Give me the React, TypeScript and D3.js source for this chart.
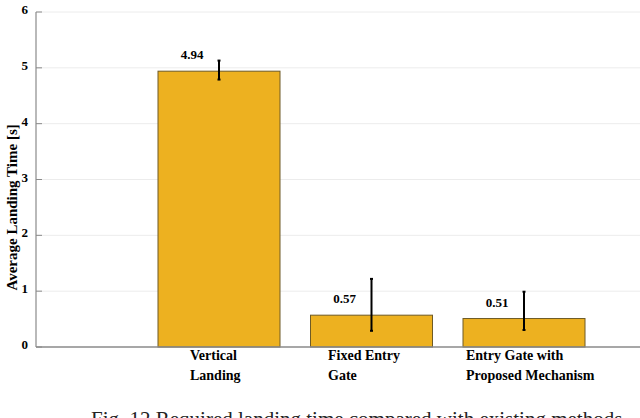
import React from 'react'
import * as d3 from 'd3'

const categories = ['Vertical Landing', 'Fixed Entry Gate', 'Entry Gate with Proposed Mechanism']
const labelLines = [['Vertical', 'Landing'], ['Fixed Entry', 'Gate'], ['Entry Gate with', 'Proposed Mechanism']]
const means = [4.94, 0.57, 0.51]
const errLow = [4.79, 0.29, 0.305]
const errHigh = [5.13, 1.22, 0.99]
const yTicks = [0, 1, 2, 3, 4, 5, 6]
const yLabel = 'Average Landing Time [s]'
const caption = 'Fig. 12 Required landing time compared with existing methods'

const W = 640
const H = 418
const serif = '"Liberation Serif", "Times New Roman", serif'

export default function App() {
    const left = 36
    const right = 640
    const y = d3.scaleLinear().domain([0, 6]).range([347, 12])
    // categories sit at 1, 2, 3 on a linear x axis
    const x = d3.scaleLinear().domain([0, 4]).range([66.5, 676.5])
    const barW = x(0.8) - x(0)
    // category label blocks are left aligned
    const labelX = d3.scaleLinear().domain([1, 3]).range([190, 466])

    return (
        <svg
            width={W}
            height={H}
            style={{ position: 'absolute', left: 0, top: 0, background: '#fff', fontFamily: serif }}
        >
            {/* grid */}
            {yTicks.slice(1).map(t => (
                <line key={'g' + t} x1={left} x2={right} y1={y(t)} y2={y(t)} stroke="#ececec" strokeWidth={1} />
            ))}

            {/* bars */}
            {means.map((m, i) => (
                <rect
                    key={'b' + i}
                    x={x(i + 1) - barW / 2}
                    y={y(m)}
                    width={barW}
                    height={y(0) - y(m)}
                    fill="#EDB120"
                    stroke="#6e5a26"
                    strokeWidth={1}
                />
            ))}

            {/* error bars */}
            {means.map((m, i) => (
                <g key={'e' + i} stroke="#000" strokeWidth={2}>
                    <line x1={x(i + 1)} x2={x(i + 1)} y1={y(errLow[i])} y2={y(errHigh[i])} />
                    <line x1={x(i + 1) - 1.5} x2={x(i + 1) + 1.5} y1={y(errLow[i])} y2={y(errLow[i])} />
                    <line x1={x(i + 1) - 1.5} x2={x(i + 1) + 1.5} y1={y(errHigh[i])} y2={y(errHigh[i])} />
                </g>
            ))}

            {/* value labels */}
            {means.map((m, i) => (
                <text
                    key={'v' + i}
                    x={x(i + 1) - 27}
                    y={y(m) - 12}
                    textAnchor="middle"
                    fontSize={13}
                    fontWeight="bold"
                >
                    {m.toFixed(2)}
                </text>
            ))}

            {/* axes */}
            <line x1={left} x2={left} y1={y(6)} y2={y(0)} stroke="#8a8a8a" strokeWidth={1.2} />
            <line x1={left} x2={right} y1={y(0)} y2={y(0)} stroke="#8a8a8a" strokeWidth={1.5} />
            {yTicks.map(t => (
                <g key={'t' + t}>
                    <line x1={left} x2={left + 6} y1={y(t)} y2={y(t)} stroke="#8a8a8a" strokeWidth={1} />
                    <text x={left - 8} y={y(t) + 2} textAnchor="end" fontSize={13} fontWeight="bold">
                        {t}
                    </text>
                </g>
            ))}

            <text
                transform={`translate(17, ${y(2.5)}) rotate(-90)`}
                textAnchor="middle"
                fontSize={15}
                fontWeight="bold"
            >
                {yLabel}
            </text>

            {/* category labels */}
            {categories.map((c, i) => (
                <text key={c} x={labelX(i + 1)} fontSize={14} fontWeight="bold">
                    {labelLines[i].map((ln, j) => (
                        <tspan key={j} x={labelX(i + 1)} y={360 + j * 20}>
                            {ln}
                        </tspan>
                    ))}
                </text>
            ))}

            <text x={91} y={426} fontSize={21} fill="#222">
                {caption}
            </text>
        </svg>
    )
}
